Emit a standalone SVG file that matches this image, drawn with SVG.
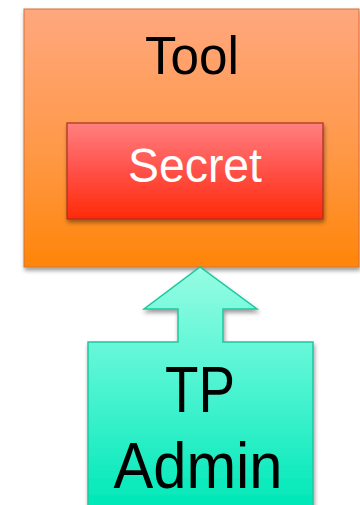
<svg xmlns="http://www.w3.org/2000/svg" width="360" height="505" viewBox="0 0 360 505">
<style>
.lbl{font-family:"Liberation Sans",Arial,sans-serif;text-anchor:middle}
</style>
<defs>
<linearGradient id="gOrange" x1="0" y1="0" x2="0" y2="1">
<stop offset="0" stop-color="#FFA77E"/>
<stop offset="0.55" stop-color="#FF9848"/>
<stop offset="1" stop-color="#FF8508"/>
</linearGradient>
<linearGradient id="gRed" x1="0" y1="0" x2="0" y2="1">
<stop offset="0" stop-color="#FF8080"/>
<stop offset="0.5" stop-color="#FF5048"/>
<stop offset="1" stop-color="#FF2A08"/>
</linearGradient>
<linearGradient id="gTeal" gradientUnits="userSpaceOnUse" x1="0" y1="267" x2="0" y2="505">
<stop offset="0" stop-color="#96FCE2"/>
<stop offset="0.4" stop-color="#5CF6D6"/>
<stop offset="1" stop-color="#00E8B8"/>
</linearGradient>
<filter id="shadow" x="-10%" y="-10%" width="125%" height="125%">
<feGaussianBlur in="SourceAlpha" stdDeviation="2"/>
<feOffset dx="1" dy="3" result="b"/>
<feComponentTransfer><feFuncA type="linear" slope="0.4"/></feComponentTransfer>
<feMerge><feMergeNode/><feMergeNode in="SourceGraphic"/></feMerge>
</filter>
</defs>
<g id="tool">
<rect x="24" y="9" width="335" height="258" fill="url(#gOrange)" stroke="#D87030" stroke-width="1" filter="url(#shadow)"/>
<text class="lbl" x="192" y="74" font-size="54" fill="#000" textLength="94" lengthAdjust="spacingAndGlyphs">Tool</text>
</g>
<g id="secret">
<rect x="67" y="123" width="256" height="96" fill="url(#gRed)" stroke="#A83020" stroke-width="1.2" filter="url(#shadow)"/>
<text class="lbl" x="195" y="182" font-size="49" fill="#fff" textLength="134" lengthAdjust="spacingAndGlyphs">Secret</text>
</g>
<g id="connectors"></g>
<g id="tpadmin">
<path d="M88 342 L178 342 L178 309 L144 309 L200 267 L257 309 L223 309 L223 342 L313 342 L313 510 L88 510 Z" fill="url(#gTeal)" stroke="#1CC8A0" stroke-width="1.5" filter="url(#shadow)"/>
<text class="lbl" x="200" y="412" font-size="64" fill="#000" textLength="70" lengthAdjust="spacingAndGlyphs">TP</text>
<text class="lbl" x="198" y="488" font-size="64" fill="#000" textLength="169" lengthAdjust="spacingAndGlyphs">Admin</text>
</g>
</svg>
